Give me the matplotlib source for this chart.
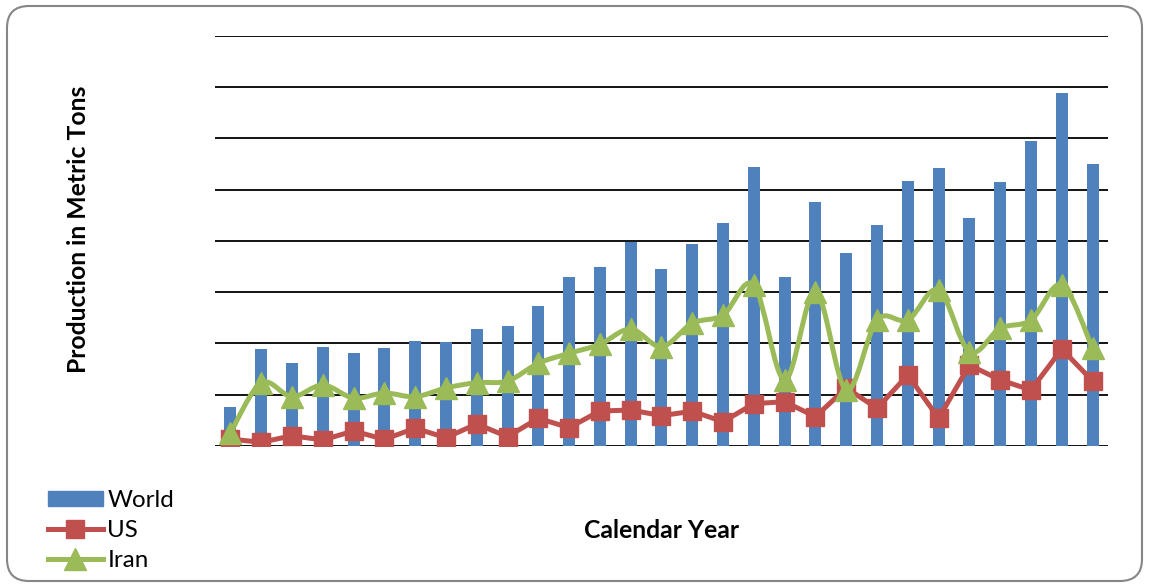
import matplotlib
matplotlib.use('Agg')
import matplotlib.pyplot as plt
from matplotlib.path import Path
from matplotlib.patches import PathPatch, FancyBboxPatch, Patch
from matplotlib.lines import Line2D
from matplotlib.transforms import IdentityTransform

plt.rcParams['font.family'] = ['Lato', 'DejaVu Sans']

# 29 calendar years, values in the chart's (unlabelled) units
years = list(range(1, 30))
world = [38.3, 94.3, 80.7, 96.6, 90.7, 95.6, 102.4, 101.5, 114.4, 117.4,
         136.6, 164.9, 174.3, 199.0, 172.4, 196.8, 217.9, 272.2, 165.2, 238.0,
         188.3, 215.9, 258.8, 271.2, 222.1, 257.3, 297.3, 344.1, 274.8]
us = [6.8, 3.6, 10.0, 5.9, 14.6, 6.5, 17.3, 8.1, 21.5, 9.1,
      27.0, 17.9, 34.1, 35.1, 29.6, 33.9, 23.7, 41.3, 43.2, 28.6,
      56.6, 36.8, 69.3, 27.0, 79.0, 64.4, 54.6, 94.6, 63.4]
iran = [12.7, 61.5, 48.1, 59.5, 46.8, 51.7, 48.1, 56.6, 61.8, 63.4,
        80.7, 90.4, 99.2, 114.1, 96.9, 119.7, 127.8, 157.1, 64.4, 150.5,
        54.6, 122.9, 122.9, 152.2, 92.0, 114.8, 122.9, 157.1, 95.3]

blue = '#4F81BD'
red = '#C0504D'
green = '#9BBB59'

fig = plt.figure(figsize=(11.49, 5.88), dpi=100)
ax = fig.add_axes([0.1871, 0.2415, 0.7772, 0.6973])

ax.bar(years, world, width=0.39, color=blue, zorder=2)
ax.plot(years, us, color=red, lw=3.6, marker='s', markersize=13.5,
        solid_joinstyle='round', zorder=3)

# smoothed line for Iran (Excel style), built as bezier segments from the points
verts = [(years[0], iran[0])]
codes = [Path.MOVETO]
n = len(years)
for i in range(n - 1):
    x0, y0 = (years[i - 1], iran[i - 1]) if i > 0 else (years[i], iran[i])
    x1, y1 = years[i], iran[i]
    x2, y2 = years[i + 1], iran[i + 1]
    x3, y3 = (years[i + 2], iran[i + 2]) if i + 2 < n else (x2, y2)
    verts += [(x1 + (x2 - x0) / 6, y1 + (y2 - y0) / 6),
              (x2 - (x3 - x1) / 6, y2 - (y3 - y1) / 6),
              (x2, y2)]
    codes += [Path.CURVE4] * 3
ax.add_patch(PathPatch(Path(verts, codes), fill=False, edgecolor=green,
                       lw=3.6, joinstyle='round', zorder=4))
ax.plot(years, iran, ls='none', marker='^', markersize=15.5, color=green, zorder=4)

ax.set_xlim(0.5, 29.5)
ax.set_ylim(0, 400)
ax.set_yticks(range(0, 401, 50))
ax.grid(axis='y', color='black', lw=1.3, zorder=1)
ax.tick_params(left=False, bottom=False, labelleft=False, labelbottom=False)
for s in ax.spines.values():
    s.set_visible(False)

fig.text(0.0679, 0.6105, 'Production in Metric Tons', rotation=90, ha='center',
         va='center', fontsize=17.8, fontweight='bold')
fig.text(0.576, 0.0986, 'Calendar Year', ha='center', va='center',
         fontsize=17.8, fontweight='bold')

handles = [Patch(color=blue),
           Line2D([], [], color=red, lw=3.6, marker='s', markersize=13.5),
           Line2D([], [], color=green, lw=3.6, marker='^', markersize=15.5)]
fig.legend(handles, ['World', 'US', 'Iran'], loc='lower left',
           bbox_to_anchor=(0.042, 0.029), frameon=False, fontsize=17.4,
           handlelength=2.25, handleheight=0.6, handletextpad=0.2,
           labelspacing=0.37, borderaxespad=0, borderpad=0)

fig.add_artist(FancyBboxPatch((7, 7), 1135, 575,
                              boxstyle='round,pad=0,rounding_size=22',
                              transform=IdentityTransform(), fill=False,
                              edgecolor='#868686', lw=1.5))

fig.savefig('out.png', dpi=100)
